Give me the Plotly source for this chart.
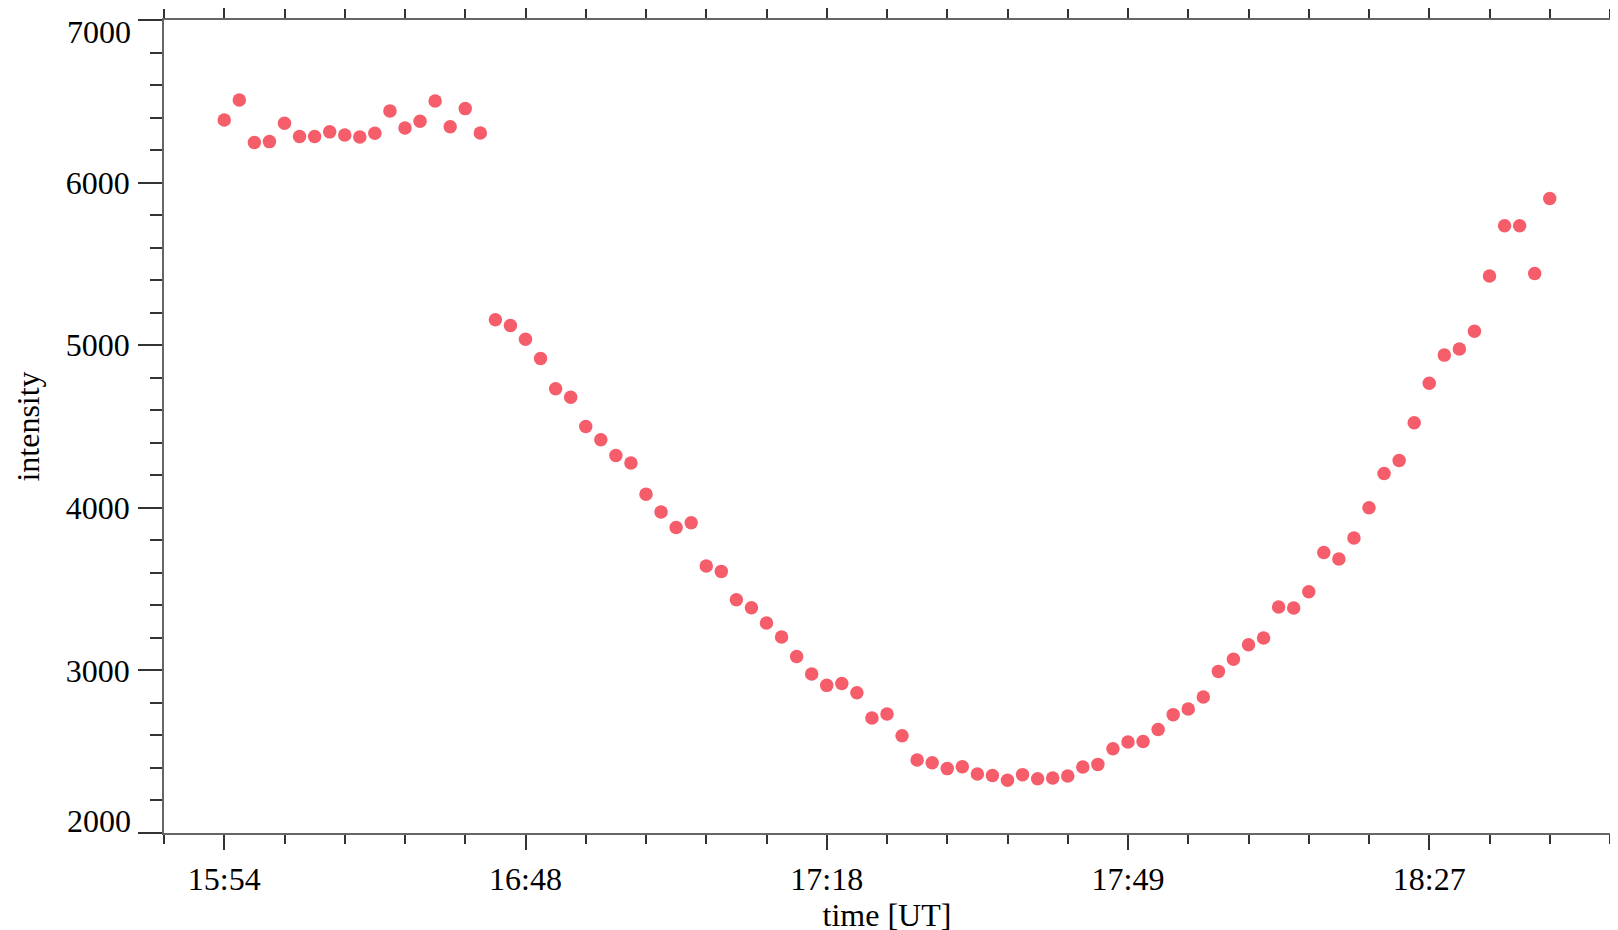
import plotly.graph_objects as go

# frame index (one point per frame)
frame = list(range(89))

intensity = [
    6385, 6508, 6246, 6252, 6365, 6283, 6283, 6312, 6293, 6281,
    6303, 6441, 6336, 6377, 6502, 6344, 6455, 6305,
    5156, 5121, 5037, 4918, 4732, 4680, 4500, 4418, 4322, 4275,
    4084, 3974, 3879, 3908, 3642, 3609, 3435, 3385, 3291, 3205,
    3086, 2978, 2908, 2920, 2863, 2707, 2732, 2598, 2449, 2432,
    2396, 2408, 2363, 2353, 2324, 2359, 2334, 2338, 2350, 2406,
    2422, 2518, 2560, 2563, 2637, 2728, 2763, 2836, 2994, 3068,
    3158, 3199, 3390, 3384, 3484, 3725, 3685, 3814, 4000, 4211,
    4291, 4523, 4766, 4939, 4976, 5086, 5426, 5734, 5734, 5441,
    5902,
]

tick_frames = [0, 20, 40, 60, 80]
tick_labels = ["15:54", "16:48", "17:18", "17:49", "18:27"]

y_ticks = [2000, 3000, 4000, 5000, 6000, 7000]
y_labels = ["2000", "3000", "4000", "5000", "6000", "7000"]

font_family = "Liberation Serif, Times New Roman, serif"
axis_color = "#666666"

fig = go.Figure()
fig.add_trace(go.Scatter(
    x=frame, y=intensity, mode="markers",
    marker=dict(color="#f65d6b", size=13.5, line=dict(width=0)),
    showlegend=False,
))

# inner tick labels on the axis, end labels pulled inward (as in the original plot)
inner_text = [t if 0 < i < len(y_ticks) - 1 else "" for i, t in enumerate(y_labels)]
fig.add_annotation(x=0, xref="paper", y=y_ticks[-1], yref="y", text=y_labels[-1],
                   showarrow=False, xanchor="right", yanchor="top",
                   xshift=-31, yshift=8, font=dict(size=32, family=font_family, color="black"))
fig.add_annotation(x=0, xref="paper", y=y_ticks[0], yref="y", text=y_labels[0],
                   showarrow=False, xanchor="right", yanchor="bottom",
                   xshift=-31, yshift=-8, font=dict(size=32, family=font_family, color="black"))

fig.update_layout(
    width=1618, height=930,
    margin=dict(l=156, r=16, t=12, b=105),
    plot_bgcolor="white", paper_bgcolor="white",
    font=dict(family=font_family, size=32, color="black"),
    xaxis=dict(
        range=[-4, 92], automargin=False,
        tickmode="array", tickvals=tick_frames, ticktext=tick_labels,
        ticks="outside", ticklen=15, tickwidth=1.5, tickcolor="#333333",
        minor=dict(dtick=4, tick0=0, ticks="outside", ticklen=9, tickwidth=1.5, tickcolor="#333333"),
        showline=True, linecolor=axis_color, linewidth=1.5, mirror="ticks",
        showgrid=False, zeroline=False,
        title=dict(text="time [UT]", standoff=6, font=dict(size=32)),
        ticklabelstandoff=2, ticklabeloverflow="allow",
    ),
    yaxis=dict(
        range=[2000, 7000], automargin=False,
        tickmode="array", tickvals=y_ticks, ticktext=inner_text,
        ticks="outside", ticklen=24, tickwidth=1.5, tickcolor="#333333",
        minor=dict(dtick=200, tick0=0, ticks="outside", ticklen=12, tickwidth=1.5, tickcolor="#333333"),
        showline=True, linecolor=axis_color, linewidth=1.5, mirror="ticks",
        showgrid=False, zeroline=False,
        title=dict(text="intensity", standoff=17, font=dict(size=32)),
        ticklabelstandoff=2, ticklabeloverflow="allow",
    ),
)

fig.write_html("out.html")
